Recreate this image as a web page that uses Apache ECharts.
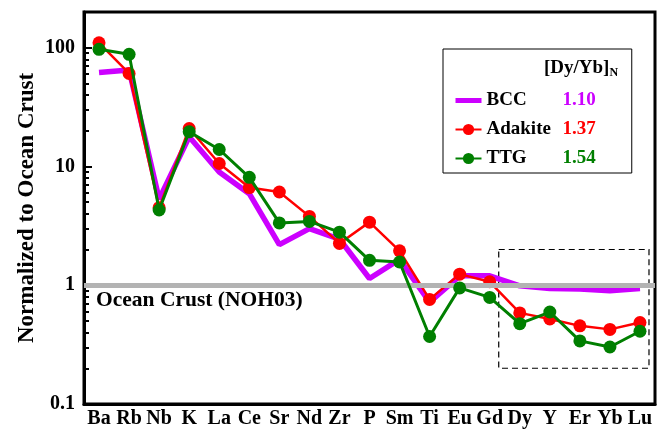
<!DOCTYPE html>
<html>
<head>
<meta charset="utf-8">
<script src="https://cdn.jsdelivr.net/npm/echarts@6/dist/echarts.min.js"></script>
<style>
  html, body { margin: 0; padding: 0; background: #fff; }
  #chart { width: 664px; height: 431px; }
</style>
</head>
<body>
<div id="chart"></div>
<script>
// element order along the x axis
var elements = ['Ba', 'Rb', 'Nb', 'K', 'La', 'Ce', 'Sr', 'Nd', 'Zr', 'P', 'Sm', 'Ti', 'Eu', 'Gd', 'Dy', 'Y', 'Er', 'Yb', 'Lu'];

// values normalized to ocean crust
var bcc = [62, 65, 5.3, 17.8, 9.0, 5.9, 2.2, 3.0, 2.45, 1.14, 1.65, 0.72, 1.2, 1.2, 0.99, 0.94, 0.93, 0.9, 0.94];
var adakite = [110, 60.7, 4.5, 20.9, 10.6, 6.65, 6.1, 3.8, 2.25, 3.4, 1.95, 0.76, 1.24, 1.07, 0.585, 0.52, 0.455, 0.425, 0.485];
var ttg = [97, 88, 4.3, 19.6, 13.9, 8.1, 3.35, 3.45, 2.8, 1.62, 1.57, 0.37, 0.95, 0.79, 0.475, 0.595, 0.34, 0.302, 0.41];

// [Dy/Yb]N ratios shown in the legend
var seriesNames = ['BCC', 'Adakite', 'TTG'];
var dyYbRatios = ['1.10', '1.37', '1.54'];
var seriesColors = ['#cc00ff', '#ff0000', '#007f00'];

// axis ticks
var majorTicks = [0.1, 1, 10, 100];
var minorTicks = [0.2, 0.3, 0.4, 0.5, 0.6, 0.7, 0.8, 0.9, 2, 3, 4, 5, 6, 7, 8, 9, 20, 30, 40, 50, 60, 70, 80, 90, 200];

// reference level and the dashed HREE box (x in element index units, y in data units)
var oceanCrustLevel = 1;
var boxX = [13.3, 18.3];
var boxY = [0.2, 2];

var font = 'Liberation Serif, Times New Roman, serif';

function boldText(size, color) {
  return { fontFamily: font, fontWeight: 'bold', fontSize: size, color: color || '#000' };
}

var myChart = echarts.init(document.getElementById('chart'));

var legendRich = { n: Object.assign(boldText(19), { width: 76, lineHeight: 20 }) };
seriesColors.forEach(function (c, i) {
  legendRich['v' + i] = Object.assign(boldText(19, c), { lineHeight: 20 });
});

var option = {
  animation: false,
  title: {
    text: '[Dy/Yb]{s|N}',
    left: 539,
    top: 53,
    textStyle: Object.assign(boldText(19), {
      rich: {
        s: Object.assign(boldText(12), { verticalAlign: 'bottom', padding: [9, 0, 0, 0] })
      }
    })
  },
  legend: {
    data: [
      { name: 'BCC', itemStyle: { opacity: 0 }, lineStyle: { width: 5 } },
      { name: 'Adakite' },
      { name: 'TTG' }
    ],
    orient: 'vertical',
    left: 443,
    top: 49,
    padding: [42, 36, 5, 10],
    borderColor: '#000',
    borderWidth: 1,
    itemWidth: 26,
    itemHeight: 14,
    itemGap: 10,
    formatter: function (name) {
      var i = seriesNames.indexOf(name);
      return '{n|' + name + '}{v' + i + '|' + dyYbRatios[i] + '}';
    },
    textStyle: Object.assign(boldText(19), { rich: legendRich })
  },
  grid: {
    left: 84, top: 12, right: 9, bottom: 27,
    show: true,
    borderColor: '#000',
    borderWidth: 3
  },
  xAxis: [
    {
      type: 'category',
      data: elements,
      boundaryGap: true,
      axisLine: { lineStyle: { color: '#000', width: 3 } },
      axisTick: { inside: true, alignWithLabel: true, length: 6, lineStyle: { color: '#000', width: 2 } },
      axisLabel: Object.assign(boldText(20), { margin: 5, interval: 0 }),
      splitLine: { show: false }
    },
    {
      type: 'value',
      min: -0.5,
      max: elements.length - 0.5,
      show: false
    }
  ],
  yAxis: [
    {
      type: 'log',
      logBase: 10,
      min: 0.1,
      max: 200,
      name: 'Normalized to Ocean Crust',
      nameLocation: 'middle',
      nameGap: 45,
      nameMoveOverlap: false,
      nameTextStyle: boldText(23),
      axisLine: { show: true, onZero: false, lineStyle: { color: '#000', width: 3 } },
      axisTick: { inside: true, length: 8, customValues: majorTicks, lineStyle: { color: '#000', width: 2 } },
      axisLabel: Object.assign(boldText(20), {
        customValues: majorTicks,
        margin: 9,
        formatter: function (v) { return String(v); }
      }),
      splitLine: { show: false }
    },
    {
      type: 'log',
      logBase: 10,
      min: 0.1,
      max: 200,
      position: 'left',
      axisLine: { show: false, onZero: false },
      axisTick: { show: true, inside: true, length: 5, customValues: minorTicks, lineStyle: { color: '#000', width: 2 } },
      axisLabel: { show: false },
      splitLine: { show: false }
    }
  ],
  series: [
    {
      name: 'reference',
      type: 'line',
      xAxisIndex: 1,
      yAxisIndex: 0,
      data: [],
      symbol: 'none',
      silent: true,
      z: 1,
      markLine: {
        silent: true,
        symbol: 'none',
        lineStyle: { color: '#b3b3b3', width: 5, type: 'solid' },
        label: Object.assign(boldText(21.5), {
          show: true,
          position: 'insideStartBottom',
          formatter: 'Ocean Crust (NOH03)',
          distance: [12, 4]
        }),
        data: [{ yAxis: oceanCrustLevel }]
      },
      markArea: {
        silent: true,
        itemStyle: { color: 'rgba(0,0,0,0)', borderColor: '#000', borderWidth: 1.2, borderType: [6, 4] },
        data: [[{ coord: [boxX[0], boxY[1]] }, { coord: [boxX[1], boxY[0]] }]]
      }
    },
    {
      name: 'BCC',
      type: 'line',
      data: bcc,
      symbol: 'none',
      z: 3,
      color: seriesColors[0],
      lineStyle: { color: seriesColors[0], width: 5.5 }
    },
    {
      name: 'Adakite',
      type: 'line',
      data: adakite,
      symbol: 'circle',
      symbolSize: 13,
      z: 4,
      color: seriesColors[1],
      itemStyle: { color: seriesColors[1] },
      lineStyle: { color: seriesColors[1], width: 2.5 }
    },
    {
      name: 'TTG',
      type: 'line',
      data: ttg,
      symbol: 'circle',
      symbolSize: 13,
      z: 5,
      color: seriesColors[2],
      itemStyle: { color: seriesColors[2] },
      lineStyle: { color: seriesColors[2], width: 3 }
    }
  ]
};

myChart.setOption(option);
</script>
</body>
</html>
